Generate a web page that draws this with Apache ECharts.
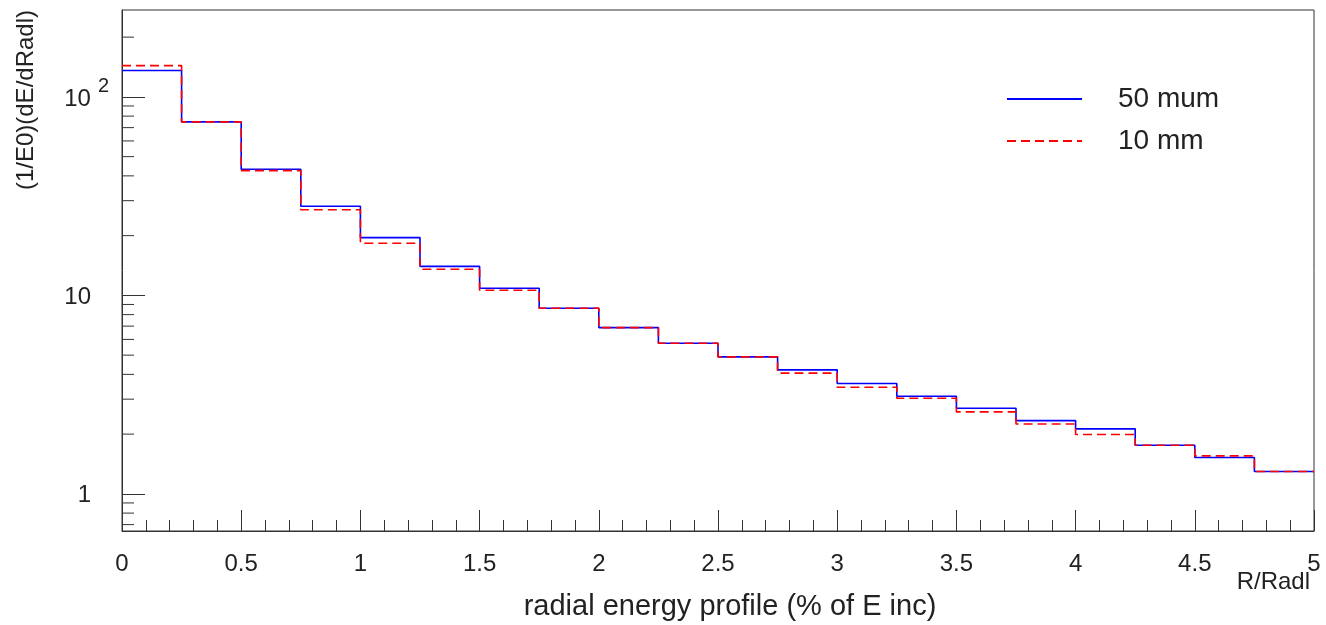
<!DOCTYPE html>
<html>
<head>
<meta charset="utf-8">
<script src="https://cdn.jsdelivr.net/npm/echarts@6/dist/echarts.min.js"></script>
<style>
html,body{margin:0;padding:0;background:#fff;}
#main{width:1326px;height:625px;}
</style>
</head>
<body>
<div id="main"></div>
<script>
// Bin edges (R/Radl)
const binEdges = [0,0.25,0.5,0.75,1,1.25,1.5,1.75,2,2.25,2.5,2.75,3,3.25,3.5,3.75,4,4.25,4.5,4.75,5];
// 50 mum histogram contents
const values50mum = [135.7,74.8,43.2,28.1,19.55,14.0,10.87,8.62,6.88,5.74,4.90,4.215,3.595,3.105,2.70,2.34,2.126,1.759,1.524,1.296];
// 10 mm histogram contents
const values10mm = [143.8,74.8,42.5,27.0,18.3,13.55,10.62,8.62,6.88,5.74,4.90,4.06,3.447,3.03,2.588,2.25,1.99,1.759,1.554,1.296];
// Y minor tick values (log axis)
const yMinorTicks = [0.7,0.8,0.9,2,3,4,5,6,7,8,9,20,30,40,50,60,70,80,90,200];
const seriesNames = ['50 mum','10 mm'];

function stepData(vals){
  return binEdges.map((e,i)=>[e, vals[Math.min(i, vals.length-1)]]);
}

const FONT = 'Liberation Sans';
const TXT = '#222';
const chart = echarts.init(document.getElementById('main'), null, {renderer:'canvas'});
const option = {
  animation:false,
  backgroundColor:'#fff',
  textStyle:{fontFamily:FONT},
  grid:{left:122,right:12,top:10,bottom:94,show:true,borderColor:'#333',borderWidth:1,containLabel:false},
  legend:{
    data:seriesNames,
    orient:'vertical',
    left:1001, top:80,
    itemWidth:75, itemHeight:22, itemGap:14,
    itemStyle:{opacity:0},
    textStyle:{fontFamily:FONT,fontSize:28,color:TXT,padding:[0,0,0,31]},
    selectedMode:false
  },
  xAxis:{
    type:'value', min:0, max:5, interval:0.5,
    axisLine:{show:true,lineStyle:{color:'#333',width:1}},
    axisTick:{show:true,inside:true,length:21,lineStyle:{color:'#333'}},
    minorTick:{show:true,splitNumber:5,length:11,lineStyle:{color:'#333'}},
    splitLine:{show:false},
    axisLabel:{fontFamily:FONT,fontSize:24,color:TXT,margin:21,showMinLabel:true,showMaxLabel:true}
  },
  yAxis:{
    type:'log', logBase:10, min:0.65, max:274,
    axisLine:{show:true,lineStyle:{color:'#333',width:1}},
    axisTick:{show:true,inside:true,length:23,lineStyle:{color:'#333'}},
    splitLine:{show:false},
    axisLabel:{
      fontFamily:FONT,color:TXT,margin:13,showMinLabel:false,showMaxLabel:false,
      formatter:function(v){
        if (Math.abs(v-100)<1e-6) return '{b|10}{s|2}';
        if (Math.abs(v-10)<1e-6) return '{b|10}{e|}';
        if (Math.abs(v-1)<1e-6) return '{b|1}{e|}';
        return '';
      },
      rich:{
        b:{fontFamily:FONT,fontSize:24,color:TXT,lineHeight:40,padding:[4,0,0,0]},
        s:{fontFamily:FONT,fontSize:20,color:TXT,verticalAlign:'top',lineHeight:28,padding:[0,0,0,7]},
        e:{width:18,fontSize:20,lineHeight:20}
      }
    }
  },
  graphic:[
    {type:'text', x:26, y:10, rotation:Math.PI/2,
     style:{text:'(1/E0)(dE/dRadl)', font:'24px "'+FONT+'"', fill:TXT, align:'right', verticalAlign:'middle'}},
    {type:'text', x:730, y:607,
     style:{text:'radial energy profile (% of E inc)', font:'29px "'+FONT+'"', fill:TXT, align:'center', verticalAlign:'middle'}},
    {type:'text', x:1310, y:582,
     style:{text:'R/Radl', font:'24px "'+FONT+'"', fill:TXT, align:'right', verticalAlign:'middle'}}
  ],
  series:[
    {
      name:'yMinor', type:'custom', coordinateSystem:'cartesian2d', silent:true, z:5,
      data:yMinorTicks.map(v=>[0,v]),
      encode:{x:0,y:1},
      renderItem:function(params, api){
        const p = api.coord([0, api.value(1)]);
        return {type:'line', shape:{x1:p[0],y1:p[1],x2:p[0]+12,y2:p[1]}, style:{stroke:'#333',lineWidth:1}};
      }
    },
    {
      name:seriesNames[0], type:'line', step:'end', symbol:'none', showSymbol:false,
      data:stepData(values50mum),
      lineStyle:{color:'#0000ff',width:1.6,type:'solid'},
      itemStyle:{color:'#0000ff'},
      z:3
    },
    {
      name:seriesNames[1], type:'line', step:'end', symbol:'none', showSymbol:false,
      data:stepData(values10mm),
      lineStyle:{color:'#ff0000',width:1.6,type:[9,5]},
      itemStyle:{color:'#ff0000'},
      z:4
    }
  ]
};
chart.setOption(option);
</script>
</body>
</html>
